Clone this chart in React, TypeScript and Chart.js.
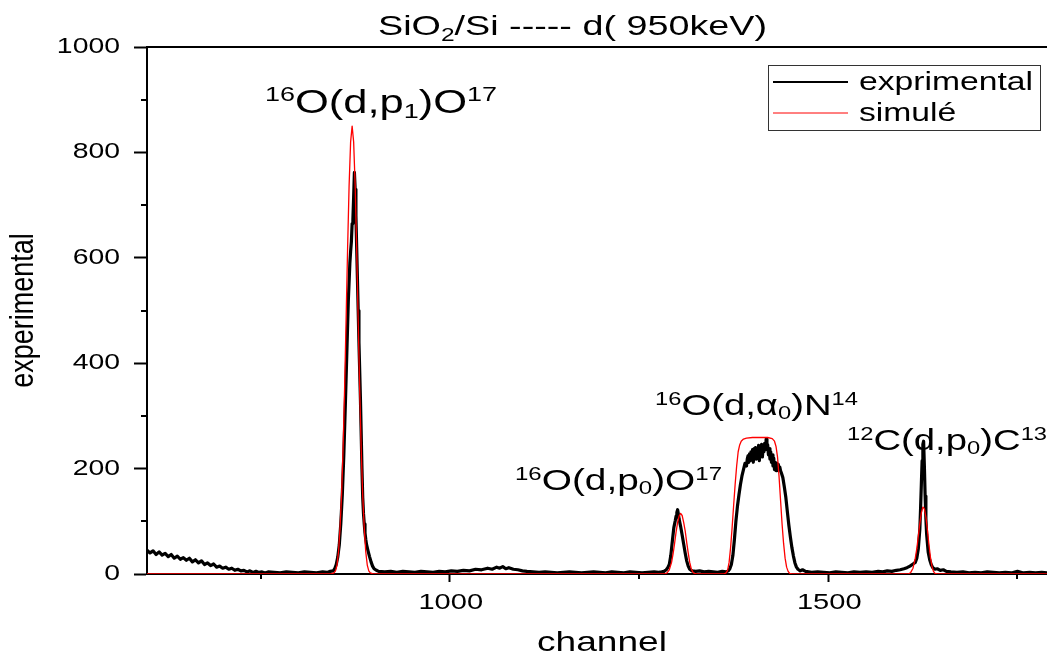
import React, { useEffect, useRef } from 'react';
import { Chart, registerables } from 'chart.js';

Chart.register(...registerables);

const FONT = '"Liberation Sans", Arial, Helvetica, sans-serif';

// ---- axis ticks ----
const xMajorTicks = [1000, 1500];
const xTickLabels = ['1000', '1500'];
const xMinorTicks = [750, 1250, 1750];
const yMajorTicks = [0, 200, 400, 600, 800, 1000];
const yTickLabels = ['0', '200', '400', '600', '800', '1000'];
const yMinorTicks = [100, 300, 500, 700, 900];
const xRange = [600, 1789];
const yRange = [0, 1000];

// ---- experimental spectrum (channel, counts) ----
const expChannels = [
  600, 604, 608, 612, 616, 620, 624, 628, 632, 636, 640, 644, 648, 652, 656, 660, 664, 668, 672, 676, 680, 684, 688, 692, 696, 700, 704, 708, 712, 716, 720, 724, 728, 732, 736, 740, 744, 748, 752, 756, 760,
  768, 776, 784, 792, 800, 808, 816, 824, 832, 838, 842,
  846, 848, 850, 852, 854, 856, 858, 860, 862, 864, 866, 868, 869, 870, 871, 872, 873, 874, 875, 876, 877, 878, 879, 880, 882, 884, 885, 886, 887, 888, 889, 890, 892, 894, 896, 898, 900, 903,
  906, 914, 922, 930, 938, 946, 954, 962, 970, 978, 986, 994, 1002, 1010, 1018, 1026, 1034, 1042, 1050, 1056, 1062, 1066, 1070, 1074, 1078, 1084, 1090, 1096, 1102, 1110, 1118, 1126, 1134, 1142, 1150, 1158, 1166, 1174, 1182, 1190, 1198, 1206, 1214, 1222, 1230, 1238, 1246, 1254, 1262, 1270, 1276, 1280,
  1283, 1286, 1288, 1290, 1292, 1294, 1296, 1298, 1299, 1300, 1301, 1302, 1303, 1305, 1307, 1309, 1311, 1313, 1315, 1317, 1320, 1325, 1330, 1336, 1342, 1348, 1354, 1360, 1365, 1368,
  1370, 1372, 1374, 1376, 1378, 1380, 1382, 1384, 1386, 1388, 1390, 1392, 1393, 1394, 1395, 1396, 1397, 1398, 1399, 1400, 1401, 1402, 1403, 1404, 1405, 1406, 1407, 1408, 1409, 1410, 1411, 1412, 1413, 1414, 1415, 1416, 1417, 1418, 1419, 1420, 1421, 1422, 1423, 1424, 1425, 1426, 1427, 1428, 1429, 1430, 1431, 1432, 1433, 1434, 1435, 1436, 1437, 1438, 1440, 1442, 1444, 1446, 1448, 1450, 1452, 1454, 1456, 1458, 1460, 1463, 1466, 1470,
  1478, 1486, 1494, 1502, 1510, 1518, 1526, 1534, 1542, 1550, 1558, 1566, 1572, 1578, 1584, 1590, 1595, 1600, 1604, 1608, 1612, 1615, 1617, 1619, 1621, 1622, 1623, 1624, 1625, 1626, 1627, 1628, 1629, 1630, 1632, 1634, 1636, 1638, 1641, 1644, 1648, 1652, 1656, 1662,
  1670, 1678, 1686, 1694, 1702, 1710, 1718, 1726, 1734, 1742, 1750, 1758, 1766, 1774, 1782, 1789,
];
const expCounts = [
  45, 40, 44, 37, 42, 36, 39, 33, 37, 30, 34, 28, 31, 26, 30, 23, 27, 21, 25, 18, 21, 16, 19, 13, 15, 11, 13, 9, 11, 7, 9, 6, 7, 4, 6, 3, 5, 3, 4, 2, 4,
  3, 2, 4, 3, 2, 4, 3, 2, 4, 3, 5,
  6, 10, 18, 32, 55, 95, 150, 225, 320, 420, 520, 590, 612, 630, 665, 672, 715, 762, 730, 680, 620, 560, 500, 440, 330, 200, 145, 115, 95, 78, 66, 56, 44, 33, 23, 15, 10, 7,
  5, 4, 5, 3, 5, 4, 3, 5, 4, 3, 5, 4, 6, 5, 7, 6, 9, 8, 11, 9, 13, 11, 14, 10, 12, 9, 8, 6, 5, 4, 3, 4, 3, 2, 3, 4, 3, 2, 3, 4, 3, 2, 4, 3, 2, 4, 3, 2, 3, 4, 3, 4,
  5, 8, 12, 18, 35, 62, 88, 102, 110, 117, 122, 114, 104, 90, 74, 57, 40, 25, 15, 9, 6, 5, 6, 4, 5, 4, 3, 5, 4, 6,
  10, 18, 35, 65, 100, 128, 150, 170, 186, 198, 210, 205, 218, 224, 212, 228, 215, 232, 220, 236, 212, 238, 225, 240, 218, 236, 228, 244, 215, 238, 226, 246, 222, 240, 232, 248, 236, 256, 240, 245, 226, 238, 218, 232, 212, 226, 205, 220, 198, 212, 196, 210, 202, 208, 200, 203, 196, 192, 183, 165, 145, 118, 92, 70, 50, 34, 21, 13, 9, 6, 8, 5,
  3, 4, 3, 2, 4, 3, 2, 4, 3, 4, 3, 5, 4, 6, 5, 7, 8, 10, 12, 15, 19, 22, 30, 48, 85, 125, 170, 215, 246, 252, 205, 148, 105, 75, 42, 27, 18, 12, 9, 10, 7, 8, 5, 4,
  3, 4, 2, 3, 2, 4, 3, 2, 3, 2, 5, 2, 3, 2, 3, 2,
];

// ---- simulated spectrum (channel, counts) ----
const simChannels = [
  600, 843, 845, 847, 849, 851, 853, 855, 857, 859, 861, 863, 865, 867, 869, 871, 873, 875, 877, 879, 881, 883, 885, 887, 889, 891, 893, 895, 897, 899,
  1284, 1287, 1290, 1293, 1295, 1297, 1299, 1301, 1303, 1305, 1307, 1309, 1311, 1313, 1315, 1317, 1319, 1321, 1323, 1326,
  1362, 1365, 1367, 1369, 1371, 1373, 1375, 1377, 1379, 1381, 1383, 1385, 1388, 1392, 1400, 1410, 1420, 1426, 1429, 1431, 1433, 1435, 1437, 1439, 1441, 1443, 1445, 1447, 1449, 1452,
  1606, 1609, 1612, 1615, 1617, 1619, 1621, 1623, 1625, 1627, 1629, 1631, 1633, 1635, 1637, 1639, 1641, 1644, 1789,
];
const simCounts = [
  0, 0, 1, 2, 6, 17, 42, 87, 149, 236, 349, 481, 617, 737, 820, 850, 820, 737, 617, 481, 349, 236, 149, 87, 42, 17, 6, 2, 1, 0,
  0, 2, 8, 22, 38, 58, 80, 98, 110, 115, 111, 98, 82, 60, 40, 22, 10, 4, 1, 0,
  0, 2, 7, 22, 50, 88, 130, 170, 205, 232, 245, 252, 256, 258, 259, 259, 259, 257, 252, 242, 222, 185, 140, 95, 58, 30, 13, 5, 1, 0,
  0, 3, 11, 30, 48, 72, 96, 116, 127, 124, 108, 84, 56, 32, 15, 5, 1, 0, 0,
];

const seriesNames = ['exprimental', 'simulé'];

// rich-text pieces: [text, relative size, baseline shift in em]
type Seg = [string, number, number];
const titleSegs: Seg[] = [['SiO', 1, 0], ['2', 0.65, 0.22], ['/Si ----- d( 950keV)', 1, 0]];
const labelP1: Seg[] = [['16', 0.62, -0.36], ['O(d,p', 1, 0], ['1', 0.62, 0.14], [')O', 1, 0], ['17', 0.62, -0.36]];
const labelP0: Seg[] = [['16', 0.62, -0.36], ['O(d,p', 1, 0], ['0', 0.62, 0.14], [')O', 1, 0], ['17', 0.62, -0.36]];
const labelA0: Seg[] = [['16', 0.62, -0.36], ['O(d,α', 1, 0], ['0', 0.62, 0.14], [')N', 1, 0], ['14', 0.62, -0.36]];
const labelC: Seg[] = [['12', 0.62, -0.36], ['C(d,p', 1, 0], ['0', 0.62, 0.14], [')C', 1, 0], ['13', 0.62, -0.36]];

function richWidth(ctx: CanvasRenderingContext2D, segs: Seg[], size: number) {
  let w = 0;
  for (const [t, s] of segs) {
    ctx.font = `${size * s}px ${FONT}`;
    w += ctx.measureText(t).width;
  }
  return w;
}

function drawRich(ctx: CanvasRenderingContext2D, segs: Seg[], x: number, baseline: number, size: number, stretch: number) {
  ctx.save();
  ctx.translate(x, baseline);
  ctx.scale(stretch, 1);
  ctx.textAlign = 'left';
  ctx.textBaseline = 'alphabetic';
  let cx = 0;
  for (const [t, s, dy] of segs) {
    ctx.font = `${size * s}px ${FONT}`;
    ctx.fillText(t, cx, dy * size);
    cx += ctx.measureText(t).width;
  }
  ctx.restore();
}

function fitStretch(ctx: CanvasRenderingContext2D, segs: Seg[], size: number, width: number) {
  return width / richWidth(ctx, segs, size);
}

const overlayPlugin = {
  id: 'overlay',
  afterDraw(chart: any) {
    const ctx: CanvasRenderingContext2D = chart.ctx;
    const { left, right, top, bottom } = chart.chartArea;
    const xs = chart.scales.x;
    const ys = chart.scales.y;
    ctx.save();
    ctx.strokeStyle = '#000';
    ctx.fillStyle = '#000';
    ctx.lineWidth = 2;
    // top frame line
    ctx.beginPath();
    ctx.moveTo(left - 1, top);
    ctx.lineTo(right, top);
    ctx.stroke();
    // minor ticks
    ctx.beginPath();
    for (const v of yMinorTicks) {
      const py = Math.round(ys.getPixelForValue(v));
      ctx.moveTo(left - 6, py);
      ctx.lineTo(left, py);
    }
    for (const v of xMinorTicks) {
      const px = Math.round(xs.getPixelForValue(v));
      ctx.moveTo(px, bottom);
      ctx.lineTo(px, bottom + 5);
    }
    ctx.stroke();

    // y tick labels
    const tickSize = 22;
    ctx.textBaseline = 'middle';
    yMajorTicks.forEach((v, i) => {
      const py = ys.getPixelForValue(v);
      ctx.save();
      ctx.translate(left - 27, py);
      ctx.scale(1.29, 1);
      ctx.font = `${tickSize}px ${FONT}`;
      ctx.textAlign = 'right';
      ctx.fillText(yTickLabels[i], 0, 0);
      ctx.restore();
    });
    // x tick labels
    xMajorTicks.forEach((v, i) => {
      const px = xs.getPixelForValue(v);
      ctx.save();
      ctx.translate(px + 1, 603);
      ctx.scale(1.32, 1);
      ctx.font = `${tickSize}px ${FONT}`;
      ctx.textAlign = 'center';
      ctx.textBaseline = 'middle';
      ctx.fillText(xTickLabels[i], 0, 0);
      ctx.restore();
    });

    // axis titles
    const xTitle: Seg[] = [['channel', 1, 0]];
    drawRich(ctx, xTitle, 537, 651, 28, fitStretch(ctx, xTitle, 28, 130));
    ctx.save();
    ctx.translate(33, 310.5);
    ctx.rotate(-Math.PI / 2);
    ctx.scale(1, 1.22);
    ctx.font = `27px ${FONT}`;
    ctx.textAlign = 'center';
    ctx.textBaseline = 'alphabetic';
    ctx.fillText('experimental', 0, 0);
    ctx.restore();

    // chart title
    drawRich(ctx, titleSegs, 378, 35, 28, fitStretch(ctx, titleSegs, 28, 389));

    // peak annotations
    drawRich(ctx, labelP1, 265, 113, 33, fitStretch(ctx, labelP1, 33, 232));
    drawRich(ctx, labelP0, 515, 490, 29, fitStretch(ctx, labelP0, 29, 207));
    const sA = fitStretch(ctx, labelA0, 29, 203);
    drawRich(ctx, labelA0, 655, 415, 29, sA);
    drawRich(ctx, labelC, 847, 450, 29, sA);

    // legend
    ctx.lineWidth = 1;
    ctx.strokeStyle = '#333';
    ctx.strokeRect(768.5, 65.5, 272, 65);
    ctx.lineWidth = 2;
    ctx.strokeStyle = '#000';
    ctx.beginPath();
    ctx.moveTo(773, 82);
    ctx.lineTo(848, 82);
    ctx.stroke();
    ctx.lineWidth = 1;
    ctx.strokeStyle = '#ff0000';
    ctx.beginPath();
    ctx.moveTo(773, 113);
    ctx.lineTo(848, 113);
    ctx.stroke();
    const l1: Seg[] = [[seriesNames[0], 1, 0]];
    const l2: Seg[] = [[seriesNames[1], 1, 0]];
    const sl = fitStretch(ctx, l1, 26, 174);
    drawRich(ctx, l1, 859, 90, 26, sl);
    drawRich(ctx, l2, 859, 121, 26, sl);
    ctx.restore();
  },
};

export default function App() {
  const ref = useRef<HTMLCanvasElement>(null);
  useEffect(() => {
    document.body.style.margin = '0';
    const expData = expChannels.map((c, i) => ({ x: c, y: expCounts[i] }));
    const simData = simChannels.map((c, i) => ({ x: c, y: simCounts[i] }));
    const chart = new Chart(ref.current as HTMLCanvasElement, {
      type: 'line',
      data: {
        datasets: [
          {
            label: seriesNames[1],
            data: simData,
            borderColor: '#ff0000',
            borderWidth: 1.3,
            borderJoinStyle: 'round',
            pointRadius: 0,
            tension: 0,
            order: 0,
          },
          {
            label: seriesNames[0],
            data: expData,
            borderColor: '#000000',
            borderWidth: 3.2,
            borderJoinStyle: 'round',
            borderCapStyle: 'round',
            pointRadius: 0,
            tension: 0,
            order: 1,
          },
        ],
      },
      options: {
        animation: false,
        responsive: false,
        maintainAspectRatio: false,
        devicePixelRatio: 1,
        events: [],
        layout: { padding: { top: 47, right: 0, left: 0, bottom: 0 } },
        plugins: {
          legend: { display: false },
          title: { display: false },
          tooltip: { enabled: false },
        },
        scales: {
          x: {
            type: 'linear',
            position: 'bottom',
            min: xRange[0],
            max: xRange[1],
            afterBuildTicks: (s: any) => {
              s.ticks = xMajorTicks.map((v) => ({ value: v }));
            },
            afterFit: (s: any) => {
              s.height = 81;
            },
            ticks: { display: false },
            grid: {
              display: true,
              drawOnChartArea: false,
              drawTicks: true,
              tickLength: 8,
              tickWidth: 2,
              tickColor: '#000',
            },
            border: { display: true, color: '#000', width: 2 },
          },
          y: {
            type: 'linear',
            min: yRange[0],
            max: yRange[1],
            afterBuildTicks: (s: any) => {
              s.ticks = yMajorTicks.map((v) => ({ value: v }));
            },
            afterFit: (s: any) => {
              s.width = 147;
            },
            ticks: { display: false },
            grid: {
              display: true,
              drawOnChartArea: false,
              drawTicks: true,
              tickLength: 13,
              tickWidth: 2,
              tickColor: '#000',
            },
            border: { display: true, color: '#000', width: 2 },
          },
        },
      },
      plugins: [overlayPlugin],
    } as any);
    return () => chart.destroy();
  }, []);
  return (
    <div style={{ position: 'absolute', left: 0, top: 0, width: 1047, height: 655, background: '#fff' }}>
      <canvas ref={ref} width={1047} height={655} style={{ display: 'block', width: 1047, height: 655 }} />
    </div>
  );
}
